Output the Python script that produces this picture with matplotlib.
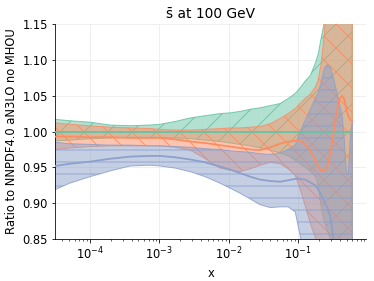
import matplotlib
matplotlib.use('Agg')
import matplotlib.pyplot as plt
from matplotlib.colors import to_rgba

# x grid
x = [3.13e-5, 5.1e-5, 1.0e-4, 1.94e-4, 3.8e-4, 7.3e-4, 1.02e-3, 1.7e-3, 2.8e-3,
     4.6e-3, 7.5e-3, 1.05e-2, 1.46e-2, 2.04e-2, 2.84e-2, 3.96e-2, 5.5e-2, 7.2e-2,
     9.1e-2, 0.107, 0.126, 0.150, 0.177, 0.195, 0.215, 0.238, 0.263, 0.290, 0.321,
     0.355, 0.392, 0.433, 0.462, 0.494, 0.528, 0.565, 0.604]

# NNPDF4.0 aN3LO no MHOU (reference)
g_hi = [1.017, 1.015, 1.013, 1.009, 1.008, 1.009, 1.010, 1.014, 1.019, 1.022, 1.025,
        1.026, 1.028, 1.031, 1.033, 1.036, 1.039, 1.046, 1.053, 1.061, 1.070, 1.078,
        1.095, 1.108, 1.13, 1.152, 1.18, 1.22, 1.26, 1.3, 1.3, 1.3, 1.3, 1.3, 1.3, 1.3, 1.3]
g_c = [1.0] * 37
g_lo = [0.987, 0.988, 0.990, 0.991, 0.992, 0.992, 0.992, 0.991, 0.990, 0.988, 0.986,
        0.984, 0.982, 0.980, 0.977, 0.974, 0.970, 0.966, 0.960, 0.955, 0.950, 0.945,
        0.938, 0.925, 0.895, 0.875, 0.862, 0.852, 0.83, 0.8, 0.75, 0.7, 0.7, 0.7, 0.7, 0.7, 0.7]

# orange set
o_hi = [1.012, 1.010, 1.008, 1.006, 1.005, 1.004, 1.003, 1.002, 1.002, 1.003, 1.004,
        1.005, 1.005, 1.006, 1.007, 1.011, 1.018, 1.025, 1.032, 1.039, 1.046, 1.052,
        1.062, 1.072, 1.095, 1.135, 1.2, 1.3, 1.3, 1.3, 1.3, 1.3, 1.3, 1.3, 1.3, 1.3, 1.3]
o_c = [0.993, 0.993, 0.992, 0.992, 0.991, 0.991, 0.991, 0.989, 0.986, 0.984, 0.981,
       0.979, 0.977, 0.975, 0.974, 0.978, 0.983, 0.986, 0.987, 0.987, 0.983, 0.973,
       0.960, 0.951, 0.946, 0.945, 0.950, 0.968, 0.995, 1.025, 1.045, 1.050, 1.045,
       1.032, 1.022, 1.016, 1.015]
o_lo = [0.975, 0.977, 0.979, 0.980, 0.980, 0.980, 0.980, 0.978, 0.974, 0.962, 0.949,
        0.946, 0.944, 0.948, 0.953, 0.957, 0.955, 0.948, 0.939, 0.920, 0.897, 0.872,
        0.852, 0.84, 0.8, 0.75, 0.7, 0.7, 0.7, 0.7, 0.7, 0.7, 0.7, 0.7, 0.7, 0.7, 0.7]

# blue set
b_hi = [0.985, 0.983, 0.982, 0.981, 0.981, 0.980, 0.980, 0.979, 0.978, 0.976, 0.975,
        0.973, 0.972, 0.971, 0.969, 0.968, 0.970, 0.975, 0.981, 1.000, 1.015, 1.031,
        1.046, 1.054, 1.068, 1.088, 1.093, 1.090, 1.075, 1.058, 1.040, 1.020, 0.99,
        0.945, 0.94, 0.99, 1.012]
b_c = [0.952, 0.955, 0.958, 0.962, 0.965, 0.966, 0.966, 0.964, 0.961, 0.957, 0.951,
       0.947, 0.942, 0.937, 0.933, 0.931, 0.930, 0.932, 0.934, 0.934, 0.933, 0.929,
       0.925, 0.919, 0.912, 0.903, 0.894, 0.882, 0.853, 0.82, 0.78, 0.75, 0.75, 0.75,
       0.75, 0.75, 0.75]
b_lo = [0.919, 0.928, 0.937, 0.945, 0.952, 0.953, 0.952, 0.949, 0.944, 0.937, 0.928,
        0.921, 0.914, 0.906, 0.898, 0.894, 0.895, 0.895, 0.888, 0.855, 0.82, 0.78,
        0.7, 0.7, 0.7, 0.7, 0.7, 0.7, 0.7, 0.7, 0.7, 0.7, 0.7, 0.7, 0.7, 0.7, 0.7]

plt.rcParams['font.size'] = 11.5

fig = plt.figure(figsize=(374 / 72, 281 / 72), dpi=72)
ax = fig.add_axes([0.147, 0.149, 0.832, 0.766])

bands = [
    (g_lo, g_c, g_hi, '#66c2a5', '/'),
    (o_lo, o_c, o_hi, '#fc8d62', '\\'),
    (b_lo, b_c, b_hi, '#8da0cb', '-'),
]
for lo, c, hi, col, hatch in bands:
    ax.fill_between(x, lo, hi, facecolor=to_rgba(col, 0.5),
                    edgecolor=to_rgba(col, 0.85), hatch=hatch, lw=1.0, zorder=2)
for lo, c, hi, col, hatch in bands:
    ax.plot(x, c, color=col, lw=1.8, zorder=3)

ax.set_xscale('log')
ax.set_xlim(3.13e-5, 0.957)
ax.set_ylim(0.85, 1.15)
ax.set_yticks([0.85, 0.90, 0.95, 1.00, 1.05, 1.10, 1.15])
ax.grid(True, which='major', color='#ececec', lw=0.8, zorder=0)
ax.set_axisbelow(True)
ax.spines['top'].set_visible(False)
ax.spines['right'].set_visible(False)

ax.set_title('s\u0304 at 100 GeV', fontsize=13.8)
ax.set_xlabel('x')
ax.set_ylabel('Ratio to NNPDF4.0 aN3LO no MHOU')

fig.savefig('out.png', dpi=72)
